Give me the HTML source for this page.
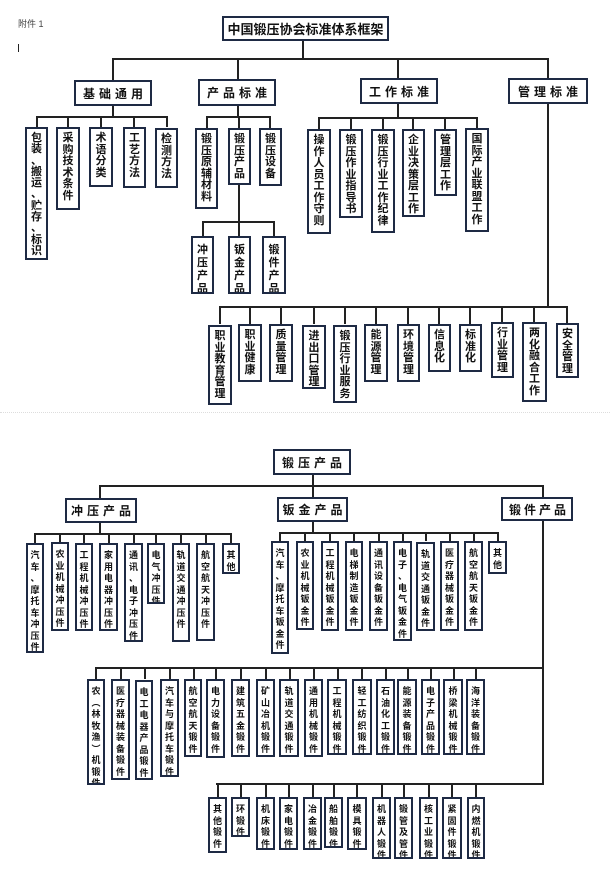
<!DOCTYPE html>
<html><head><meta charset="utf-8"><style>
body{margin:0;width:610px;height:869px;background:#fff;position:relative;overflow:hidden;font-family:"Liberation Sans","Noto Sans CJK SC",sans-serif;color:#111}
div{position:absolute;box-sizing:border-box}
.b{border:2px solid #1e2a44;background:#fff;font-weight:bold;text-align:center;word-break:break-all;line-break:anywhere;overflow:hidden}
.t{font-size:11px;line-height:11.5px;padding:4px 0 0}
.s{font-size:9px;line-height:11.5px;padding:5px 0 0}
.hd{display:flex;align-items:center;justify-content:center;font-size:12px;letter-spacing:4px;padding-left:4px;white-space:nowrap;line-break:auto}
.l{background:#222}
</style></head><body>
<div style="left:18px;top:17px;font-size:9px;color:#444">附件 1</div>
<div class="l" style="left:18px;top:44px;width:1px;height:8px"></div>
<div class="b hd" style="left:222px;top:16px;width:167px;height:25px;font-size:13px;letter-spacing:0;padding:0">中国锻压协会标准体系框架</div>

<div class="l" style="left:302px;top:41px;width:2px;height:19px"></div>
<div class="l" style="left:112px;top:58px;width:437px;height:2px"></div>
<div class="l" style="left:112px;top:58px;width:2px;height:22px"></div>
<div class="l" style="left:237px;top:58px;width:2px;height:21px"></div>
<div class="l" style="left:397px;top:58px;width:2px;height:20px"></div>
<div class="l" style="left:547px;top:58px;width:2px;height:20px"></div>

<div class="b hd" style="left:74px;top:80px;width:78px;height:26px">基础通用</div>
<div class="b hd" style="left:198px;top:79px;width:78px;height:27px">产品标准</div>
<div class="b hd" style="left:360px;top:78px;width:78px;height:26px">工作标准</div>
<div class="b hd" style="left:508px;top:78px;width:80px;height:26px">管理标准</div>

<div class="l" style="left:112px;top:106px;width:2px;height:11px"></div>
<div class="l" style="left:36px;top:116px;width:132px;height:2px"></div>
<div class="l" style="left:36px;top:116px;width:2px;height:11px"></div>
<div class="l" style="left:67px;top:116px;width:2px;height:11px"></div>
<div class="l" style="left:100px;top:116px;width:2px;height:11px"></div>
<div class="l" style="left:133px;top:116px;width:2px;height:11px"></div>
<div class="l" style="left:166px;top:116px;width:2px;height:11px"></div>
<div class="b t" style="left:25px;top:127px;width:23px;height:133px;line-height:11.3px">包装、搬运、贮存、标识</div>
<div class="b t" style="left:56px;top:127px;width:24px;height:83px">采购技术条件</div>
<div class="b t" style="left:89px;top:127px;width:24px;height:60px">术语分类</div>
<div class="b t" style="left:123px;top:127px;width:23px;height:61px">工艺方法</div>
<div class="b t" style="left:155px;top:128px;width:23px;height:60px">检测方法</div>

<div class="l" style="left:237px;top:106px;width:2px;height:11px"></div>
<div class="l" style="left:206px;top:116px;width:65px;height:2px"></div>
<div class="l" style="left:206px;top:116px;width:2px;height:12px"></div>
<div class="l" style="left:238px;top:116px;width:2px;height:12px"></div>
<div class="l" style="left:269px;top:116px;width:2px;height:12px"></div>
<div class="b t" style="left:195px;top:128px;width:23px;height:81px">锻压原辅材料</div>
<div class="b t" style="left:228px;top:128px;width:23px;height:57px">锻压产品</div>
<div class="b t" style="left:259px;top:128px;width:23px;height:58px">锻压设备</div>
<div class="l" style="left:238px;top:185px;width:2px;height:37px"></div>
<div class="l" style="left:202px;top:221px;width:73px;height:2px"></div>
<div class="l" style="left:202px;top:221px;width:2px;height:15px"></div>
<div class="l" style="left:238px;top:221px;width:2px;height:15px"></div>
<div class="l" style="left:273px;top:221px;width:2px;height:15px"></div>
<div class="b t" style="left:191px;top:236px;width:23px;height:58px;padding-top:6px;line-height:13px">冲压产品</div>
<div class="b t" style="left:228px;top:236px;width:23px;height:58px;padding-top:6px;line-height:13px">钣金产品</div>
<div class="b t" style="left:262px;top:236px;width:24px;height:58px;padding-top:6px;line-height:13px">锻件产品</div>

<div class="l" style="left:397px;top:104px;width:2px;height:14px"></div>
<div class="l" style="left:318px;top:117px;width:160px;height:2px"></div>
<div class="l" style="left:318px;top:117px;width:2px;height:12px"></div>
<div class="l" style="left:350px;top:117px;width:2px;height:12px"></div>
<div class="l" style="left:382px;top:117px;width:2px;height:12px"></div>
<div class="l" style="left:412px;top:117px;width:2px;height:12px"></div>
<div class="l" style="left:444px;top:117px;width:2px;height:12px"></div>
<div class="l" style="left:476px;top:117px;width:2px;height:12px"></div>
<div class="b t" style="left:307px;top:129px;width:24px;height:105px">操作人员工作守则</div>
<div class="b t" style="left:339px;top:129px;width:24px;height:89px">锻压作业指导书</div>
<div class="b t" style="left:371px;top:129px;width:24px;height:104px">锻压行业工作纪律</div>
<div class="b t" style="left:402px;top:129px;width:23px;height:88px">企业决策层工作</div>
<div class="b t" style="left:434px;top:129px;width:23px;height:67px">管理层工作</div>
<div class="b t" style="left:465px;top:128px;width:24px;height:104px">国际产业联盟工作</div>

<div class="l" style="left:547px;top:104px;width:2px;height:203px"></div>
<div class="l" style="left:219px;top:306px;width:349px;height:2px"></div>
<div class="l" style="left:219px;top:306px;width:2px;height:18px"></div>
<div class="l" style="left:249px;top:306px;width:2px;height:18px"></div>
<div class="l" style="left:280px;top:306px;width:2px;height:18px"></div>
<div class="l" style="left:313px;top:306px;width:2px;height:18px"></div>
<div class="l" style="left:344px;top:306px;width:2px;height:18px"></div>
<div class="l" style="left:375px;top:306px;width:2px;height:18px"></div>
<div class="l" style="left:407px;top:306px;width:2px;height:18px"></div>
<div class="l" style="left:438px;top:306px;width:2px;height:18px"></div>
<div class="l" style="left:469px;top:306px;width:2px;height:18px"></div>
<div class="l" style="left:501px;top:306px;width:2px;height:18px"></div>
<div class="l" style="left:533px;top:306px;width:2px;height:18px"></div>
<div class="l" style="left:566px;top:306px;width:2px;height:18px"></div>
<div class="b t" style="left:208px;top:325px;width:24px;height:80px">职业教育管理</div>
<div class="b t" style="left:238px;top:324px;width:24px;height:58px">职业健康</div>
<div class="b t" style="left:269px;top:324px;width:24px;height:58px">质量管理</div>
<div class="b t" style="left:302px;top:325px;width:24px;height:64px">进出口管理</div>
<div class="b t" style="left:333px;top:325px;width:24px;height:78px">锻压行业服务</div>
<div class="b t" style="left:364px;top:324px;width:24px;height:58px">能源管理</div>
<div class="b t" style="left:397px;top:324px;width:23px;height:58px">环境管理</div>
<div class="b t" style="left:428px;top:324px;width:23px;height:48px">信息化</div>
<div class="b t" style="left:459px;top:324px;width:23px;height:48px">标准化</div>
<div class="b t" style="left:491px;top:322px;width:23px;height:56px">行业管理</div>
<div class="b t" style="left:522px;top:322px;width:25px;height:80px">两化融合工作</div>
<div class="b t" style="left:556px;top:323px;width:23px;height:55px">安全管理</div>

<div style="left:0;top:412px;width:610px;height:0;border-top:1px dotted #ddd"></div>

<div class="b hd" style="left:273px;top:449px;width:78px;height:26px;font-size:12px">锻压产品</div>
<div class="l" style="left:312px;top:475px;width:2px;height:11px"></div>
<div class="l" style="left:99px;top:485px;width:445px;height:2px"></div>
<div class="l" style="left:99px;top:485px;width:2px;height:14px"></div>
<div class="l" style="left:312px;top:485px;width:2px;height:12px"></div>
<div class="l" style="left:542px;top:485px;width:2px;height:12px"></div>
<div class="b hd" style="left:65px;top:498px;width:72px;height:25px">冲压产品</div>
<div class="b hd" style="left:277px;top:497px;width:71px;height:25px">钣金产品</div>
<div class="b hd" style="left:501px;top:497px;width:72px;height:24px;letter-spacing:3px">锻件产品</div>

<div class="l" style="left:99px;top:523px;width:2px;height:11px"></div>
<div class="l" style="left:34px;top:533px;width:198px;height:1.5px"></div>
<div class="l" style="left:34px;top:533px;width:1.5px;height:10px"></div>
<div class="l" style="left:59px;top:533px;width:1.5px;height:10px"></div>
<div class="l" style="left:83px;top:533px;width:1.5px;height:10px"></div>
<div class="l" style="left:108px;top:533px;width:1.5px;height:10px"></div>
<div class="l" style="left:133px;top:533px;width:1.5px;height:10px"></div>
<div class="l" style="left:155px;top:533px;width:1.5px;height:10px"></div>
<div class="l" style="left:180px;top:533px;width:1.5px;height:10px"></div>
<div class="l" style="left:205px;top:533px;width:1.5px;height:10px"></div>
<div class="l" style="left:230px;top:533px;width:1.5px;height:10px"></div>
<div class="b s" style="left:26px;top:543px;width:18px;height:110px">汽车、摩托车冲压件</div>
<div class="b s" style="left:51px;top:542px;width:18px;height:89px">农业机械冲压件</div>
<div class="b s" style="left:75px;top:543px;width:18px;height:88px">工程机械冲压件</div>
<div class="b s" style="left:99px;top:543px;width:19px;height:88px">家用电器冲压件</div>
<div class="b s" style="left:124px;top:543px;width:19px;height:99px">通讯、电子冲压件</div>
<div class="b s" style="left:147px;top:543px;width:18px;height:61px">电气冲压件</div>
<div class="b s" style="left:172px;top:543px;width:18px;height:99px">轨道交通冲压件</div>
<div class="b s" style="left:196px;top:543px;width:19px;height:98px">航空航天冲压件</div>
<div class="b s" style="left:222px;top:543px;width:18px;height:31px">其他</div>

<div class="l" style="left:312px;top:522px;width:2px;height:11px"></div>
<div class="l" style="left:279px;top:532px;width:220px;height:1.5px"></div>
<div class="l" style="left:279px;top:532px;width:1.5px;height:9px"></div>
<div class="l" style="left:304px;top:532px;width:1.5px;height:9px"></div>
<div class="l" style="left:329px;top:532px;width:1.5px;height:9px"></div>
<div class="l" style="left:353px;top:532px;width:1.5px;height:9px"></div>
<div class="l" style="left:378px;top:532px;width:1.5px;height:9px"></div>
<div class="l" style="left:402px;top:532px;width:1.5px;height:9px"></div>
<div class="l" style="left:425px;top:532px;width:1.5px;height:9px"></div>
<div class="l" style="left:449px;top:532px;width:1.5px;height:9px"></div>
<div class="l" style="left:473px;top:532px;width:1.5px;height:9px"></div>
<div class="l" style="left:497px;top:532px;width:1.5px;height:9px"></div>
<div class="b s" style="left:271px;top:541px;width:18px;height:113px">汽车、摩托车钣金件</div>
<div class="b s" style="left:296px;top:541px;width:18px;height:89px">农业机械钣金件</div>
<div class="b s" style="left:321px;top:541px;width:18px;height:90px">工程机械钣金件</div>
<div class="b s" style="left:345px;top:541px;width:18px;height:90px">电梯制造钣金件</div>
<div class="b s" style="left:369px;top:541px;width:19px;height:90px">通讯设备钣金件</div>
<div class="b s" style="left:393px;top:541px;width:19px;height:100px">电子、电气钣金件</div>
<div class="b s" style="left:416px;top:542px;width:19px;height:89px">轨道交通钣金件</div>
<div class="b s" style="left:440px;top:541px;width:19px;height:90px">医疗器械钣金件</div>
<div class="b s" style="left:464px;top:541px;width:19px;height:90px">航空航天钣金件</div>
<div class="b s" style="left:488px;top:541px;width:19px;height:33px">其他</div>

<div class="l" style="left:542px;top:521px;width:2px;height:264px"></div>
<div class="l" style="left:95px;top:667px;width:449px;height:1.5px"></div>
<div class="l" style="left:95px;top:667px;width:1.5px;height:12px"></div>
<div class="l" style="left:120px;top:667px;width:1.5px;height:12px"></div>
<div class="l" style="left:144px;top:667px;width:1.5px;height:12px"></div>
<div class="l" style="left:169px;top:667px;width:1.5px;height:12px"></div>
<div class="l" style="left:193px;top:667px;width:1.5px;height:12px"></div>
<div class="l" style="left:215px;top:667px;width:1.5px;height:12px"></div>
<div class="l" style="left:240px;top:667px;width:1.5px;height:12px"></div>
<div class="l" style="left:265px;top:667px;width:1.5px;height:12px"></div>
<div class="l" style="left:289px;top:667px;width:1.5px;height:12px"></div>
<div class="l" style="left:313px;top:667px;width:1.5px;height:12px"></div>
<div class="l" style="left:337px;top:667px;width:1.5px;height:12px"></div>
<div class="l" style="left:361px;top:667px;width:1.5px;height:12px"></div>
<div class="l" style="left:385px;top:667px;width:1.5px;height:12px"></div>
<div class="l" style="left:407px;top:667px;width:1.5px;height:12px"></div>
<div class="l" style="left:430px;top:667px;width:1.5px;height:12px"></div>
<div class="l" style="left:453px;top:667px;width:1.5px;height:12px"></div>
<div class="l" style="left:475px;top:667px;width:1.5px;height:12px"></div>
<div class="b s" style="left:87px;top:679px;width:18px;height:106px">农︵林牧渔︶机锻件</div>
<div class="b s" style="left:111px;top:679px;width:19px;height:101px">医疗器械装备锻件</div>
<div class="b s" style="left:135px;top:680px;width:18px;height:100px">电工电器产品锻件</div>
<div class="b s" style="left:160px;top:679px;width:19px;height:98px">汽车与摩托车锻件</div>
<div class="b s" style="left:184px;top:679px;width:18px;height:78px">航空航天锻件</div>
<div class="b s" style="left:206px;top:679px;width:19px;height:79px">电力设备锻件</div>
<div class="b s" style="left:231px;top:679px;width:19px;height:78px">建筑五金锻件</div>
<div class="b s" style="left:256px;top:679px;width:19px;height:78px">矿山冶机锻件</div>
<div class="b s" style="left:279px;top:679px;width:20px;height:78px">轨道交通锻件</div>
<div class="b s" style="left:304px;top:679px;width:19px;height:78px">通用机械锻件</div>
<div class="b s" style="left:327px;top:679px;width:20px;height:76px">工程机械锻件</div>
<div class="b s" style="left:352px;top:679px;width:20px;height:76px">轻工纺织锻件</div>
<div class="b s" style="left:376px;top:679px;width:19px;height:76px">石油化工锻件</div>
<div class="b s" style="left:397px;top:679px;width:20px;height:76px">能源装备锻件</div>
<div class="b s" style="left:421px;top:679px;width:19px;height:76px">电子产品锻件</div>
<div class="b s" style="left:443px;top:679px;width:20px;height:76px">桥梁机械锻件</div>
<div class="b s" style="left:466px;top:679px;width:19px;height:76px">海洋装备锻件</div>

<div class="l" style="left:216px;top:783px;width:328px;height:1.5px"></div>
<div class="l" style="left:217px;top:783px;width:1.5px;height:14px"></div>
<div class="l" style="left:240px;top:783px;width:1.5px;height:14px"></div>
<div class="l" style="left:265px;top:783px;width:1.5px;height:14px"></div>
<div class="l" style="left:288px;top:783px;width:1.5px;height:14px"></div>
<div class="l" style="left:312px;top:783px;width:1.5px;height:14px"></div>
<div class="l" style="left:333px;top:783px;width:1.5px;height:14px"></div>
<div class="l" style="left:356px;top:783px;width:1.5px;height:14px"></div>
<div class="l" style="left:381px;top:783px;width:1.5px;height:14px"></div>
<div class="l" style="left:403px;top:783px;width:1.5px;height:14px"></div>
<div class="l" style="left:428px;top:783px;width:1.5px;height:14px"></div>
<div class="l" style="left:451px;top:783px;width:1.5px;height:14px"></div>
<div class="l" style="left:475px;top:783px;width:1.5px;height:14px"></div>
<div class="b s" style="left:208px;top:797px;width:19px;height:56px">其他锻件</div>
<div class="b s" style="left:231px;top:797px;width:19px;height:40px">环锻件</div>
<div class="b s" style="left:256px;top:797px;width:19px;height:53px">机床锻件</div>
<div class="b s" style="left:279px;top:797px;width:19px;height:53px">家电锻件</div>
<div class="b s" style="left:303px;top:797px;width:19px;height:53px">冶金锻件</div>
<div class="b s" style="left:324px;top:797px;width:19px;height:51px">船舶锻件</div>
<div class="b s" style="left:347px;top:797px;width:20px;height:53px">模具锻件</div>
<div class="b s" style="left:372px;top:797px;width:19px;height:62px">机器人锻件</div>
<div class="b s" style="left:394px;top:797px;width:19px;height:62px">锻管及管件</div>
<div class="b s" style="left:419px;top:797px;width:19px;height:62px">核工业锻件</div>
<div class="b s" style="left:442px;top:797px;width:20px;height:62px">紧固件锻件</div>
<div class="b s" style="left:467px;top:797px;width:18px;height:62px">内燃机锻件</div>
</body></html>
